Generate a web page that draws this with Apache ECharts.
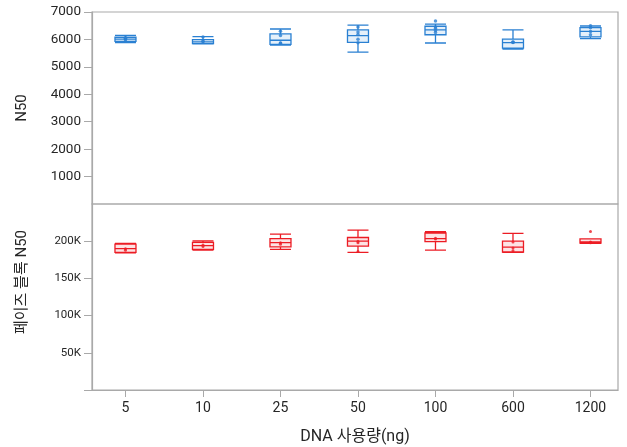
<!DOCTYPE html>
<html>
<head>
<meta charset="utf-8">
<script src="https://cdn.jsdelivr.net/npm/echarts@6/dist/echarts.min.js"></script>
<style>
  html, body { margin: 0; padding: 0; background: #fff; }
  #chart { width: 627px; height: 447px; }
</style>
</head>
<body>
<div id="chart"></div>
<script>
// DNA input amounts (ng), one box per amount
const categories = ['5', '10', '25', '50', '100', '600', '1200'];

// N50: [min, Q1, median, Q3, max] per amount
const n50Boxes = [
  [5880, 5930, 6010, 6080, 6150],
  [5840, 5850, 5910, 5990, 6100],
  [5790, 5820, 5970, 6200, 6380],
  [5540, 5890, 6140, 6350, 6520],
  [5870, 6170, 6350, 6480, 6560],
  [5650, 5680, 5880, 6010, 6350],
  [6030, 6090, 6290, 6430, 6490]
];
// individual N50 observations
const n50Points = [
  [6060, 6040, 5990, 6020],
  [6090, 5930, 5920],
  [6300, 6140, 5870, 5860],
  [6450, 6270, 6180, 6010, 5880],
  [6670, 6450, 6400, 6330, 6250],
  [5900, 5890, 5910],
  [6500, 6430, 6290, 6170]
];

// Phase block N50: [min, Q1, median, Q3, max] per amount
const phaseBoxes = [
  [184500, 185000, 190000, 196000, 197000],
  [188000, 189000, 194000, 198500, 200500],
  [189000, 192500, 198000, 203500, 209500],
  [185000, 193500, 200000, 205000, 215000],
  [188000, 199500, 203500, 211000, 213000],
  [185000, 185500, 192000, 200000, 210500],
  [197000, 197500, 199000, 203000, 203000]
];
// individual phase block N50 observations
const phasePoints = [
  [190000, 188000],
  [195000, 193000],
  [198000, 196000],
  [200000, 198000, 186000],
  [204000, 203000],
  [199000, 191000, 187000],
  [213000, 199000, 198000]
];

// tick labels
const n50Ticks = [1000, 2000, 3000, 4000, 5000, 6000, 7000];
const phaseTicks = [50000, 100000, 150000, 200000];
const phaseTickMarks = [0, 50000, 100000, 150000, 200000];

const BLUE = '#2a80d2';
const RED = '#ec1c24';
const GRID_LINE = '#a9a9a9';
const TEXT = '#262626';
const FONT = "Roboto, 'Noto Sans CJK KR', sans-serif";
const positions = categories.map((c, i) => i + 1);

function withPos(boxes) {
  return boxes.map((b, i) => [positions[i]].concat(b));
}
function flatPoints(points) {
  const out = [];
  points.forEach((arr, i) => arr.forEach(v => out.push([positions[i], v])));
  return out;
}
function xAxisFor(gridIndex, visible) {
  return {
    type: 'value', gridIndex: gridIndex, min: 0.568, max: 7.355,
    splitLine: { show: false },
    axisLine: { show: visible, onZero: false, lineStyle: { color: GRID_LINE, width: 1.2 } },
    axisTick: { show: visible, customValues: positions, length: 7, lineStyle: { color: GRID_LINE } },
    axisLabel: {
      show: visible, customValues: positions, margin: 12,
      color: TEXT, fontSize: 14, fontFamily: FONT,
      formatter: v => categories[Math.round(v) - 1] || ''
    },
    name: visible ? 'DNA 사용량(ng)' : '',
    nameLocation: 'middle', nameGap: 39,
    nameTextStyle: { color: TEXT, fontSize: 16, fontFamily: FONT }
  };
}

const chart = echarts.init(document.getElementById('chart'), null, { renderer: 'canvas' });
chart.setOption({
  animation: false,
  backgroundColor: '#fff',
  grid: [
    { left: 92, right: 9, top: 12, height: 192, show: true, borderColor: GRID_LINE, borderWidth: 1.2, backgroundColor: 'transparent' },
    { left: 92, right: 9, top: 204, height: 186, show: true, borderColor: GRID_LINE, borderWidth: 1.2, backgroundColor: 'transparent' }
  ],
  xAxis: [xAxisFor(0, false), xAxisFor(1, true)],
  yAxis: [
    {
      type: 'value', gridIndex: 0, min: 0, max: 7000,
      splitLine: { show: false },
      axisLine: { show: true, lineStyle: { color: GRID_LINE, width: 1.2 } },
      axisTick: { show: true, customValues: n50Ticks, length: 8, lineStyle: { color: GRID_LINE } },
      axisLabel: {
        customValues: n50Ticks, margin: 11, color: TEXT, fontSize: 13.5, fontFamily: FONT,
        formatter: v => String(v)
      },
      name: 'N50', nameLocation: 'middle', nameGap: 62,
      nameTextStyle: { color: TEXT, fontSize: 15, fontFamily: FONT }
    },
    {
      type: 'value', gridIndex: 1, min: 0, max: 250000,
      splitLine: { show: false },
      axisLine: { show: true, lineStyle: { color: GRID_LINE, width: 1.2 } },
      axisTick: { show: true, customValues: phaseTickMarks, length: 8, lineStyle: { color: GRID_LINE } },
      axisLabel: {
        customValues: phaseTicks, margin: 11, color: TEXT, fontSize: 11.5, fontFamily: FONT,
        formatter: v => (v / 1000) + 'K'
      },
      name: '페이즈 블록 N50', nameLocation: 'middle', nameGap: 62,
      nameTextStyle: { color: TEXT, fontSize: 15, fontFamily: FONT, padding: [0, 0, 0, 30] }
    }
  ],
  series: [
    {
      type: 'boxplot', xAxisIndex: 0, yAxisIndex: 0, layout: 'horizontal',
      boxWidth: [21, 21],
      itemStyle: { color: 'rgba(42,128,210,0.12)', borderColor: BLUE, borderWidth: 1.3 },
      data: withPos(n50Boxes)
    },
    {
      type: 'scatter', xAxisIndex: 0, yAxisIndex: 0, symbolSize: 3.5,
      itemStyle: { color: BLUE },
      data: flatPoints(n50Points)
    },
    {
      type: 'boxplot', xAxisIndex: 1, yAxisIndex: 1, layout: 'horizontal',
      boxWidth: [21, 21],
      itemStyle: { color: 'rgba(236,28,36,0.12)', borderColor: RED, borderWidth: 1.3 },
      data: withPos(phaseBoxes)
    },
    {
      type: 'scatter', xAxisIndex: 1, yAxisIndex: 1, symbolSize: 3,
      itemStyle: { color: RED },
      data: flatPoints(phasePoints)
    }
  ]
});
</script>
</body>
</html>
